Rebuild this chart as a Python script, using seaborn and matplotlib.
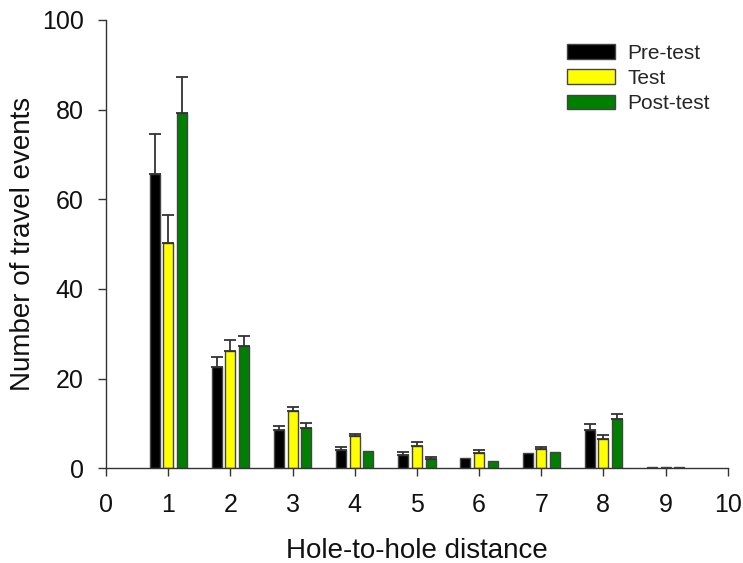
import numpy as np
import pandas as pd
import matplotlib
matplotlib.use("Agg")
import matplotlib.pyplot as plt
import seaborn as sns

# ---- data ----
distance = [1, 2, 3, 4, 5, 6, 7, 8, 9]
pre = [65.7, 22.6, 8.5, 4.1, 3.0, 2.4, 3.5, 8.5, 0.2]
pre_err = [8.8, 2.3, 1.0, 0.7, 0.6, 0.0, 0.0, 1.4, 0.0]
test = [50.3, 26.2, 12.7, 7.1, 5.0, 3.4, 4.2, 6.6, 0.2]
test_err = [6.3, 2.4, 1.0, 0.6, 0.9, 0.6, 0.6, 0.9, 0.0]
post = [79.2, 27.3, 9.0, 3.9, 2.1, 1.6, 3.7, 11.1, 0.2]
post_err = [8.0, 2.3, 1.1, 0.0, 0.5, 0.0, 0.0, 1.1, 0.0]
phases = ["Pre-test", "Test", "Post-test"]
colors = ["#000000", "#FFFF00", "#008000"]
x_ticks = [0, 1, 2, 3, 4, 5, 6, 7, 8, 9, 10]
y_ticks = [0, 20, 40, 60, 80, 100]

sns.set_style("ticks")
plt.rcParams["font.family"] = ["Liberation Sans", "DejaVu Sans"]

df = pd.DataFrame({
    "distance": distance * 3,
    "value": pre + test + post,
    "phase": [p for p in phases for _ in distance],
})
errs = {"Pre-test": pre_err, "Test": test_err, "Post-test": post_err}

fig = plt.figure(figsize=(7.43, 5.63), dpi=100)
ax = fig.add_axes([0.1427, 0.1682, 0.8367, 0.7963])

sns.barplot(data=df, x="distance", y="value", hue="phase", hue_order=phases,
            palette=colors, native_scale=True, width=0.66, gap=0.27,
            errorbar=None, edgecolor="#444444", linewidth=1.0, saturation=1,
            ax=ax)

for cont, ph in zip(ax.containers, phases):
    for bar, e in zip(cont, errs[ph]):
        if e > 0:
            xc = bar.get_x() + bar.get_width() / 2
            ax.errorbar([xc], [bar.get_height()], yerr=[[0], [e]], fmt="none",
                        ecolor="#333333", elinewidth=1.3, capsize=4.3,
                        capthick=1.3, zorder=1)

ax.set_xlim(0, 10)
ax.set_ylim(0, 100)
ax.set_xticks(x_ticks)
ax.set_yticks(y_ticks)
ax.tick_params(axis="both", labelsize=18, direction="out", length=6,
               width=1, color="#333333", labelcolor="#111111")
ax.tick_params(axis="x", pad=12)
ax.tick_params(axis="y", pad=10)
for s in ["top", "right"]:
    ax.spines[s].set_visible(False)
for s in ["left", "bottom"]:
    ax.spines[s].set_color("#333333")
    ax.spines[s].set_linewidth(1)

ax.set_xlabel("Hole-to-hole distance", fontsize=20, labelpad=15, color="#111111")
ax.set_ylabel("Number of travel events", fontsize=20, labelpad=4, color="#111111")

handles, labels = ax.get_legend_handles_labels()
ax.legend(handles, labels, loc="upper left",
          bbox_to_anchor=(548 / 743, 1 - 25 / 563), bbox_transform=fig.transFigure,
          frameon=False, fontsize=15, handlelength=2.3, handleheight=0.7,
          labelspacing=0.3, handletextpad=0.6, borderpad=0.4)

fig.savefig("out.png", dpi=100)
